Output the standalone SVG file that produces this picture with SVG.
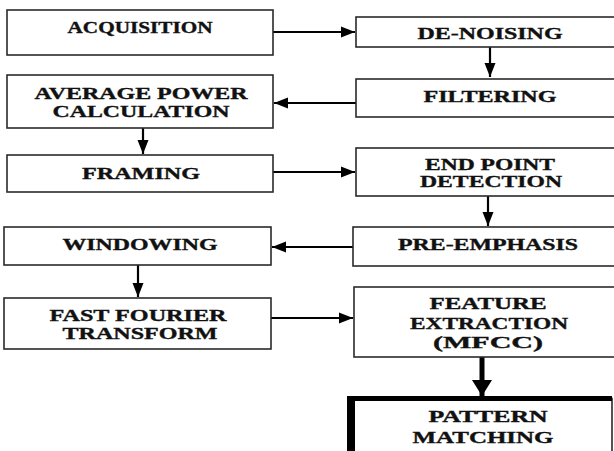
<svg xmlns="http://www.w3.org/2000/svg" width="614" height="451" viewBox="0 0 614 451">
  <style>
    .box { fill: #ffffff; stroke: #2a2a2a; stroke-width: 1.6; }
    text { font-family: 'Liberation Serif', 'DejaVu Serif', 'Times New Roman', serif; font-weight: 700; font-size: 16px; fill: #111; stroke: #111; stroke-width: 0.35; text-anchor: middle; }
    .wire { stroke: #000; stroke-width: 2.2; fill: none; marker-end: url(#head); }
    .wire-bold { stroke: #000; stroke-width: 5; fill: none; marker-end: url(#head-bold); }
  </style>
  <defs>
    <marker id="head" markerUnits="userSpaceOnUse" markerWidth="16" markerHeight="12" refX="14" refY="6" orient="auto">
      <path d="M0,0.5 L14,6 L0,11.5 z" fill="#000"/>
    </marker>
    <marker id="head-bold" markerUnits="userSpaceOnUse" markerWidth="18" markerHeight="22" refX="16" refY="10" orient="auto">
      <path d="M0,0 L16,10 L0,20 z" fill="#000"/>
    </marker>
  </defs>
  <rect width="614" height="451" fill="#ffffff"/>

  <g id="connectors">
    <line class="wire" x1="273" y1="32" x2="355" y2="32"/>
    <line class="wire" x1="490" y1="47" x2="490" y2="77"/>
    <line class="wire" x1="356" y1="103" x2="274" y2="103"/>
    <line class="wire" x1="143" y1="128" x2="143" y2="154"/>
    <line class="wire" x1="273" y1="172" x2="355" y2="172"/>
    <line class="wire" x1="488" y1="196" x2="488" y2="226"/>
    <line class="wire" x1="353" y1="247" x2="272" y2="247"/>
    <line class="wire" x1="138" y1="265" x2="138" y2="297"/>
    <line class="wire" x1="271" y1="318" x2="353" y2="318"/>
    <line class="wire-bold" x1="482" y1="357" x2="482" y2="396"/>
  </g>

  <g id="acquisition">
    <rect class="box" x="7" y="10" width="266" height="45"/>
    <text x="140" y="33" textLength="145" lengthAdjust="spacingAndGlyphs">ACQUISITION</text>
  </g>
  <g id="denoising">
    <rect class="box" x="356" y="17" width="270" height="30"/>
    <text x="490" y="39" textLength="145" lengthAdjust="spacingAndGlyphs">DE-NOISING</text>
  </g>
  <g id="filtering">
    <rect class="box" x="356" y="79" width="270" height="38"/>
    <text x="490" y="102" textLength="133" lengthAdjust="spacingAndGlyphs">FILTERING</text>
  </g>
  <g id="average-power">
    <rect class="box" x="7" y="75" width="266" height="53"/>
    <text x="141" y="99" textLength="213" lengthAdjust="spacingAndGlyphs">AVERAGE POWER</text>
    <text x="141" y="117" textLength="177" lengthAdjust="spacingAndGlyphs">CALCULATION</text>
  </g>
  <g id="framing">
    <rect class="box" x="7" y="155" width="266" height="37"/>
    <text x="141" y="179" textLength="118" lengthAdjust="spacingAndGlyphs">FRAMING</text>
  </g>
  <g id="end-point">
    <rect class="box" x="356" y="148" width="270" height="48"/>
    <text x="490" y="170" textLength="130" lengthAdjust="spacingAndGlyphs">END POINT</text>
    <text x="491" y="187" textLength="142" lengthAdjust="spacingAndGlyphs">DETECTION</text>
  </g>
  <g id="pre-emphasis">
    <rect class="box" x="353" y="227" width="270" height="39"/>
    <text x="488" y="250" textLength="180" lengthAdjust="spacingAndGlyphs">PRE-EMPHASIS</text>
  </g>
  <g id="windowing">
    <rect class="box" x="4" y="227" width="267" height="38"/>
    <text x="140" y="250" textLength="155" lengthAdjust="spacingAndGlyphs">WINDOWING</text>
  </g>
  <g id="fft">
    <rect class="box" x="4" y="298" width="267" height="51"/>
    <text x="138" y="321" textLength="177" lengthAdjust="spacingAndGlyphs">FAST FOURIER</text>
    <text x="140" y="339" textLength="155" lengthAdjust="spacingAndGlyphs">TRANSFORM</text>
  </g>
  <g id="feature-extraction">
    <rect class="box" x="354" y="287" width="270" height="70"/>
    <text x="488" y="309" textLength="117" lengthAdjust="spacingAndGlyphs">FEATURE</text>
    <text x="489" y="329" textLength="158" lengthAdjust="spacingAndGlyphs">EXTRACTION</text>
    <text x="488" y="348" textLength="110" lengthAdjust="spacingAndGlyphs">(MFCC)</text>
  </g>
  <g id="pattern-matching">
    <rect class="box" x="351" y="398.5" width="261" height="70" stroke-width="2"/>
    <rect x="347" y="396" width="8" height="60" fill="#000"/>
    <rect x="347" y="396" width="265" height="5" fill="#000"/>
    <text x="488" y="422" textLength="119" lengthAdjust="spacingAndGlyphs">PATTERN</text>
    <text x="483" y="443" textLength="141" lengthAdjust="spacingAndGlyphs">MATCHING</text>
  </g>
</svg>
